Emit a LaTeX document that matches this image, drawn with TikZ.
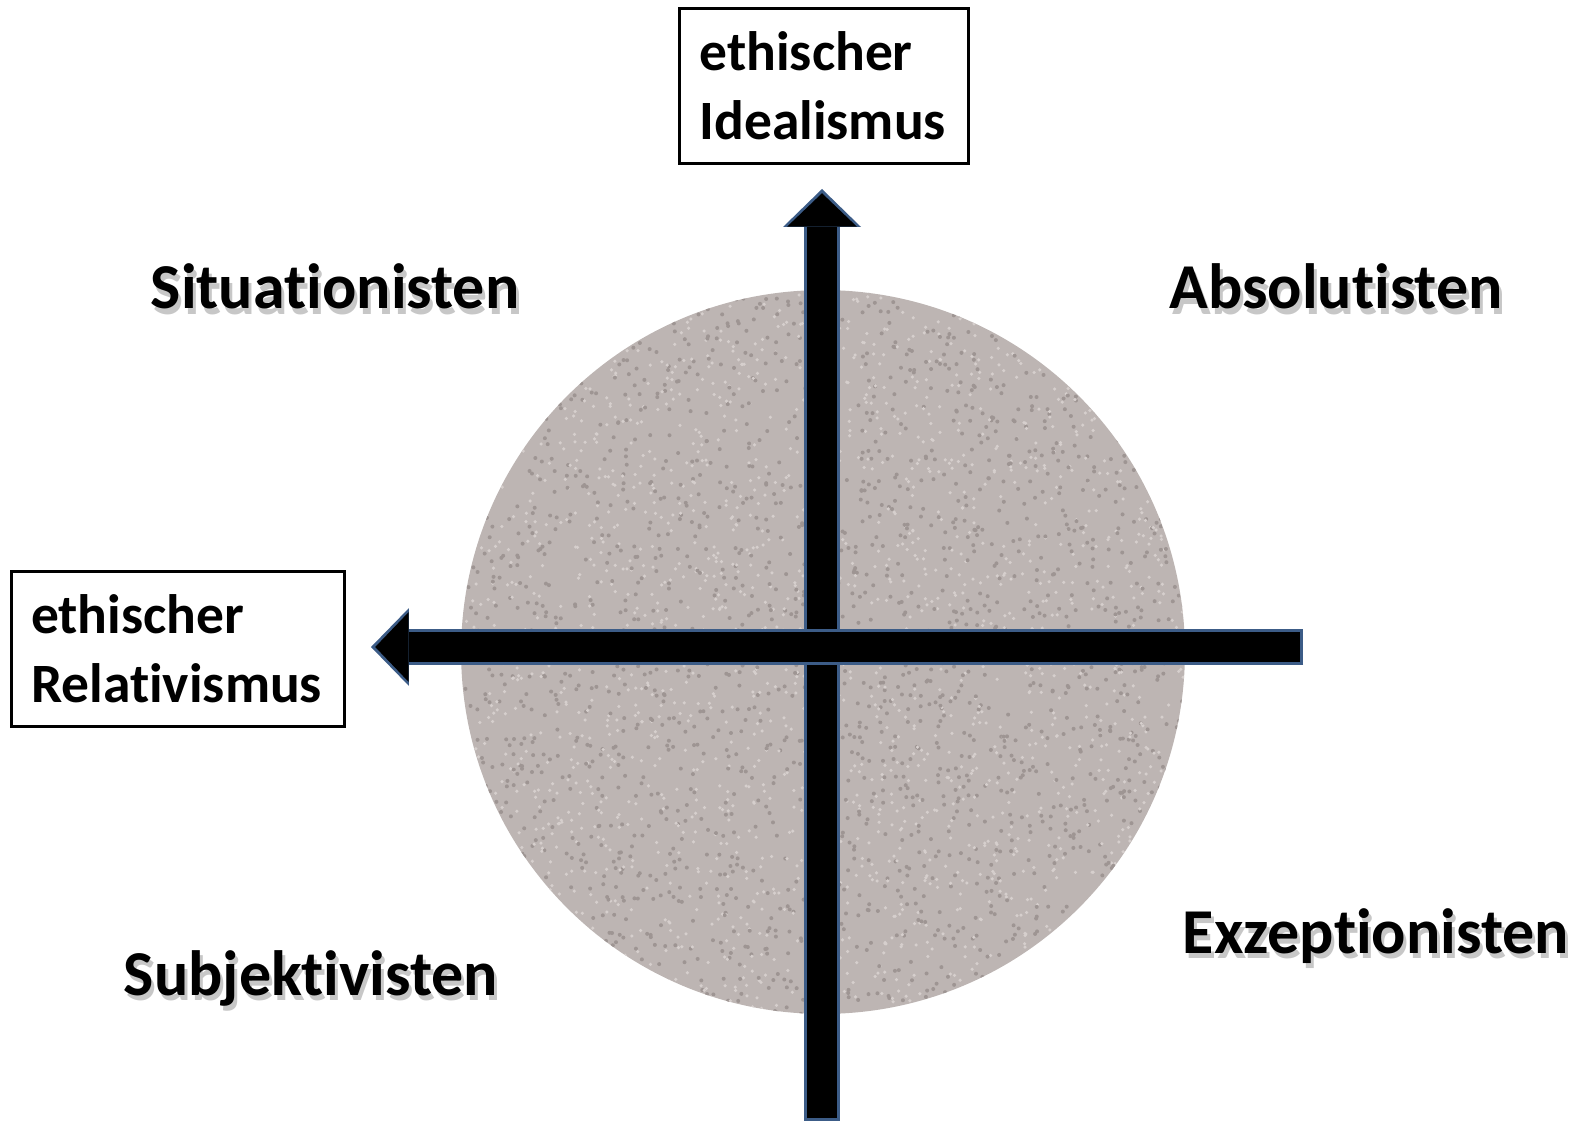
\documentclass[tikz,border=0pt]{standalone}
\usepackage{fontspec}
\setmainfont[Ligatures=NoCommon]{Carlito}
\usetikzlibrary{arrows.meta}

\definecolor{granit}{RGB}{189,181,179}
\definecolor{granitdunkel}{RGB}{158,149,147}
\definecolor{granithell}{RGB}{214,207,205}
\definecolor{pfeilblau}{RGB}{60,92,135}

% grauer Schatten hinter der Schrift
\newcommand{\schattiert}[1]{\makebox[0pt][l]{\hspace{0.6mm}\raisebox{-1.1mm}{\color{black!22}#1}}#1}

\tikzset{
  kasten/.style={draw, line width=0.6mm, align=left, inner xsep=4mm,
    font=\bfseries\fontsize{31.6pt}{39.1pt}\selectfont},
  gruppe/.style={anchor=base, font=\bfseries\fontsize{36.4pt}{44pt}\selectfont},
  pfeilrand/.style={draw=pfeilblau, line width=7.2mm,
    -{Triangle[width=15.6mm,length=7.6mm,line width=0pt]}},
  pfeilkern/.style={draw=black, line width=6mm, shorten >=0.85mm, shorten <=0.6mm,
    -{Triangle[width=14mm,length=6.7mm,line width=0pt]}}
}

\begin{document}
\begin{tikzpicture}[x=0.02cm,y=-0.02cm]
\useasboundingbox (0,0) rectangle (1581,1121);

\node[circle, fill=granit, minimum size=14.48cm, inner sep=0pt] (scheibe) at (823,652) {};
% Koernung der Scheibe
\begin{scope}
\clip (scheibe.center) circle[radius=7.24cm];
\pgfmathsetseed{7}
\foreach \i in {1,...,2200} {
  \fill[granitdunkel] (823+362*rand,652+362*rand) circle[radius=0.4mm];
  \fill[granithell] (823+362*rand,652+362*rand) circle[radius=0.35mm];
}
\end{scope}

\node[kasten, text width=49.8mm, minimum height=31.2mm] (ideal) at (824,86) {ethischer\\Idealismus};
\node[kasten, text width=58.8mm, minimum height=31mm] (relativ) at (178,649) {ethischer\\Relativismus};

\coordinate (obenSpitze) at (822,189);
\coordinate (untenEnde) at (822,1121);
\coordinate (linksSpitze) at (371,647);
\coordinate (rechtsEnde) at (1303,647);

\draw[pfeilrand] (untenEnde) -- (obenSpitze);
\draw[pfeilkern] (untenEnde) -- (obenSpitze);
\draw[pfeilrand] (rechtsEnde) -- (linksSpitze);
\draw[pfeilkern] (rechtsEnde) -- (linksSpitze);

\node[gruppe] (situ) at (335,309) {\schattiert{Situationisten}};
\node[gruppe] (abso) at (1336,309) {\schattiert{Absolutisten}};
\node[gruppe] (subj) at (311,995) {\schattiert{Subjektivisten}};
\node[gruppe] (exze) at (1376,953) {\schattiert{Exzeptionisten}};
\end{tikzpicture}
\end{document}
